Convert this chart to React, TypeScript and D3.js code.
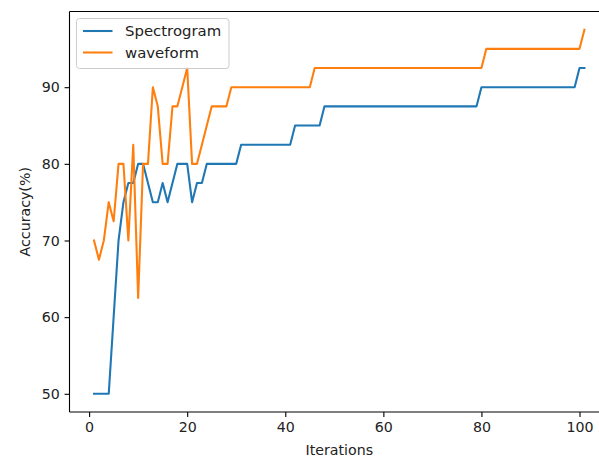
import React, { useEffect, useRef } from 'react';
import * as d3 from 'd3';

// iterations 1..101
const iterations: number[] = d3.range(1, 102);

const spectrogram: number[] = [
  50, 50, 50, 50, 60, 70, 75, 77.5, 77.5, 80,
  80, 77.5, 75, 75, 77.5, 75, 77.5, 80, 80, 80,
  75, 77.5, 77.5, 80, 80, 80, 80, 80, 80, 80,
  82.5, 82.5, 82.5, 82.5, 82.5, 82.5, 82.5, 82.5, 82.5, 82.5,
  82.5, 85, 85, 85, 85, 85, 85, 87.5, 87.5, 87.5,
  87.5, 87.5, 87.5, 87.5, 87.5, 87.5, 87.5, 87.5, 87.5, 87.5,
  87.5, 87.5, 87.5, 87.5, 87.5, 87.5, 87.5, 87.5, 87.5, 87.5,
  87.5, 87.5, 87.5, 87.5, 87.5, 87.5, 87.5, 87.5, 87.5, 90,
  90, 90, 90, 90, 90, 90, 90, 90, 90, 90,
  90, 90, 90, 90, 90, 90, 90, 90, 90, 92.5,
  92.5
];

const waveform: number[] = [
  70, 67.5, 70, 75, 72.5, 80, 80, 70, 82.5, 62.5,
  80, 80, 90, 87.5, 80, 80, 87.5, 87.5, 90, 92.5,
  80, 80, 82.5, 85, 87.5, 87.5, 87.5, 87.5, 90, 90,
  90, 90, 90, 90, 90, 90, 90, 90, 90, 90,
  90, 90, 90, 90, 90, 92.5, 92.5, 92.5, 92.5, 92.5,
  92.5, 92.5, 92.5, 92.5, 92.5, 92.5, 92.5, 92.5, 92.5, 92.5,
  92.5, 92.5, 92.5, 92.5, 92.5, 92.5, 92.5, 92.5, 92.5, 92.5,
  92.5, 92.5, 92.5, 92.5, 92.5, 92.5, 92.5, 92.5, 92.5, 92.5,
  95, 95, 95, 95, 95, 95, 95, 95, 95, 95,
  95, 95, 95, 95, 95, 95, 95, 95, 95, 95,
  97.5
];

const seriesNames = ['Spectrogram', 'waveform'];
const seriesColors = ['#1f77b4', '#ff7f0e'];
const xTicks = [0, 20, 40, 60, 80, 100];
const yTicks = [50, 60, 70, 80, 90];

const App = () => {
  const svgRef = useRef<SVGSVGElement>(null);

  useEffect(() => {
    const width = 599;
    const height = 457;
    const margin = { top: 11.5, left: 69.5, bottom: 412 };
    const font = 'DejaVu Sans, sans-serif';

    const svg = d3.select(svgRef.current);
    svg.selectAll('*').remove();

    const x = d3.scaleLinear().domain([-4, 106]).range([margin.left, margin.left + 110 * 4.904]);
    const y = d3.scaleLinear().domain([47.625, 99.875]).range([margin.bottom, margin.top]);

    svg.append('rect').attr('width', width).attr('height', height).attr('fill', 'white');

    const line = d3
      .line<number>()
      .x((_, i) => x(iterations[i]))
      .y((d) => y(d));

    [spectrogram, waveform].forEach((s, k) => {
      svg
        .append('path')
        .datum(s)
        .attr('d', line)
        .attr('fill', 'none')
        .attr('stroke', seriesColors[k])
        .attr('stroke-width', 2.08)
        .attr('stroke-linejoin', 'round')
        .attr('stroke-linecap', 'square');
    });

    // spines
    svg.append('line').attr('x1', margin.left).attr('x2', width).attr('y1', margin.top).attr('y2', margin.top)
      .attr('stroke', 'black').attr('stroke-width', 1.1);
    svg.append('line').attr('x1', margin.left).attr('x2', width).attr('y1', margin.bottom).attr('y2', margin.bottom)
      .attr('stroke', 'black').attr('stroke-width', 1.1);
    svg.append('line').attr('x1', margin.left).attr('x2', margin.left).attr('y1', margin.top).attr('y2', margin.bottom)
      .attr('stroke', 'black').attr('stroke-width', 1.1);

    const xAxis = svg
      .append('g')
      .attr('transform', `translate(0,${margin.bottom})`)
      .call(d3.axisBottom(x).tickValues(xTicks).tickSize(4.9).tickPadding(4.9));
    xAxis.select('.domain').remove();

    const yAxis = svg
      .append('g')
      .attr('transform', `translate(${margin.left},0)`)
      .call(d3.axisLeft(y).tickValues(yTicks).tickSize(4.9).tickPadding(4.9));
    yAxis.select('.domain').remove();

    svg.selectAll('.tick line').attr('stroke', 'black').attr('stroke-width', 1.1);
    svg.selectAll('.tick text').attr('fill', '#222').style('font-family', font).style('font-size', '14.2px');

    svg
      .append('text')
      .attr('x', (margin.left + 609) / 2)
      .attr('y', 455)
      .attr('text-anchor', 'middle')
      .attr('fill', '#222')
      .style('font-family', font)
      .style('font-size', '14.2px')
      .text('Iterations');

    svg
      .append('text')
      .attr('transform', `translate(30,${(margin.top + margin.bottom) / 2}) rotate(-90)`)
      .attr('text-anchor', 'middle')
      .attr('fill', '#222')
      .style('font-family', font)
      .style('font-size', '14.2px')
      .text('Accuracy(%)');

    // legend
    const legend = svg.append('g');
    legend
      .append('rect')
      .attr('x', 76.5)
      .attr('y', 18.5)
      .attr('width', 152.5)
      .attr('height', 50)
      .attr('rx', 3)
      .attr('fill', 'white')
      .attr('fill-opacity', 0.8)
      .attr('stroke', '#cccccc')
      .attr('stroke-width', 1);

    seriesNames.forEach((name, k) => {
      const ly = 31 + k * 21.5;
      legend.append('line').attr('x1', 83).attr('x2', 112.5).attr('y1', ly).attr('y2', ly)
        .attr('stroke', seriesColors[k]).attr('stroke-width', 2.08);
      legend
        .append('text')
        .attr('x', 125)
        .attr('y', ly + 5.3)
        .attr('fill', '#222')
        .style('font-family', font)
        .style('font-size', '14.9px')
        .text(name);
    });
  }, []);

  return (
    <svg
      ref={svgRef}
      width={599}
      height={457}
      style={{ position: 'absolute', left: 0, top: 0 }}
    ></svg>
  );
};

export default App;
